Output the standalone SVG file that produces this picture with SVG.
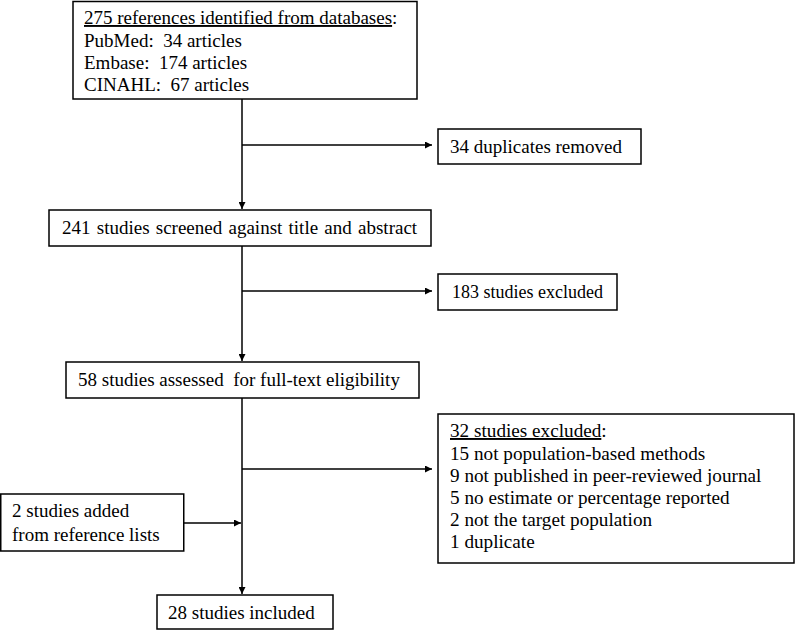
<svg xmlns="http://www.w3.org/2000/svg" width="800" height="630" viewBox="0 0 800 630">
<style>
.box{fill:#fff;stroke:#000;stroke-width:1.5}
.t{font-family:"Liberation Serif","Times New Roman",serif;font-size:19px;fill:#000;white-space:pre}
.s{font-size:19.2px}
.m{font-size:18px}
.u{text-decoration:underline}
.c{stroke:#000;stroke-width:1.5;fill:none}
</style>
<defs>
<marker id="ah" viewBox="0 0 10 10" refX="10" refY="5" markerWidth="7" markerHeight="7" markerUnits="userSpaceOnUse" orient="auto">
<path d="M0,0 L10,5 L0,10 z" fill="#000"/>
</marker>
</defs>
<rect width="800" height="630" fill="#fff"/>
<g id="connectors">
<line class="c" x1="242" y1="99" x2="242" y2="209" marker-end="url(#ah)"/>
<line class="c" x1="242" y1="145" x2="432" y2="145" marker-end="url(#ah)"/>
<line class="c" x1="242" y1="246" x2="242" y2="361" marker-end="url(#ah)"/>
<line class="c" x1="242" y1="291" x2="432" y2="291" marker-end="url(#ah)"/>
<line class="c" x1="242" y1="398" x2="242" y2="594" marker-end="url(#ah)"/>
<line class="c" x1="242" y1="469" x2="432" y2="469" marker-end="url(#ah)"/>
<line class="c" x1="184" y1="523" x2="241" y2="523" marker-end="url(#ah)"/>
</g>
<g id="n1">
<rect class="box" x="73" y="1.5" width="344" height="97.5"/>
<text class="t" x="84" y="24"><tspan class="u">275 references identified from databases</tspan>:</text>
<text class="t" x="84" y="47" xml:space="preserve">PubMed:  34 articles</text>
<text class="t" x="84" y="69" xml:space="preserve">Embase:  174 articles</text>
<text class="t" x="84" y="91" xml:space="preserve">CINAHL:  67 articles</text>
</g>
<g id="n2">
<rect class="box" x="438" y="129" width="203" height="35"/>
<text class="t" x="450" y="153">34 duplicates removed</text>
</g>
<g id="n3">
<rect class="box" x="49" y="210" width="382" height="36"/>
<text class="t" x="62" y="234" word-spacing="1.5">241 studies screened against title and abstract</text>
</g>
<g id="n4">
<rect class="box" x="438" y="274" width="179" height="36"/>
<text class="t m" x="452" y="298">183 studies excluded</text>
</g>
<g id="n5">
<rect class="box" x="66" y="362" width="353" height="36"/>
<text class="t" x="78" y="386" xml:space="preserve">58 studies assessed  for full-text eligibility</text>
</g>
<g id="n6">
<rect class="box" x="438" y="414" width="356" height="149"/>
<text class="t s" x="450" y="437"><tspan class="u">32 studies excluded</tspan>:</text>
<text class="t s" x="450" y="459.5">15 not population-based methods</text>
<text class="t s" x="450" y="482">9 not published in peer-reviewed journal</text>
<text class="t s" x="450" y="504">5 no estimate or percentage reported</text>
<text class="t s" x="450" y="526">2 not the target population</text>
<text class="t s" x="450" y="548">1 duplicate</text>
</g>
<g id="n7">
<rect class="box" x="0.75" y="494" width="183" height="57"/>
<text class="t" x="12" y="517">2 studies added</text>
<text class="t" x="12" y="541">from reference lists</text>
</g>
<g id="n8">
<rect class="box" x="157" y="595" width="176" height="34"/>
<text class="t" x="168" y="619">28 studies included</text>
</g>
</svg>
